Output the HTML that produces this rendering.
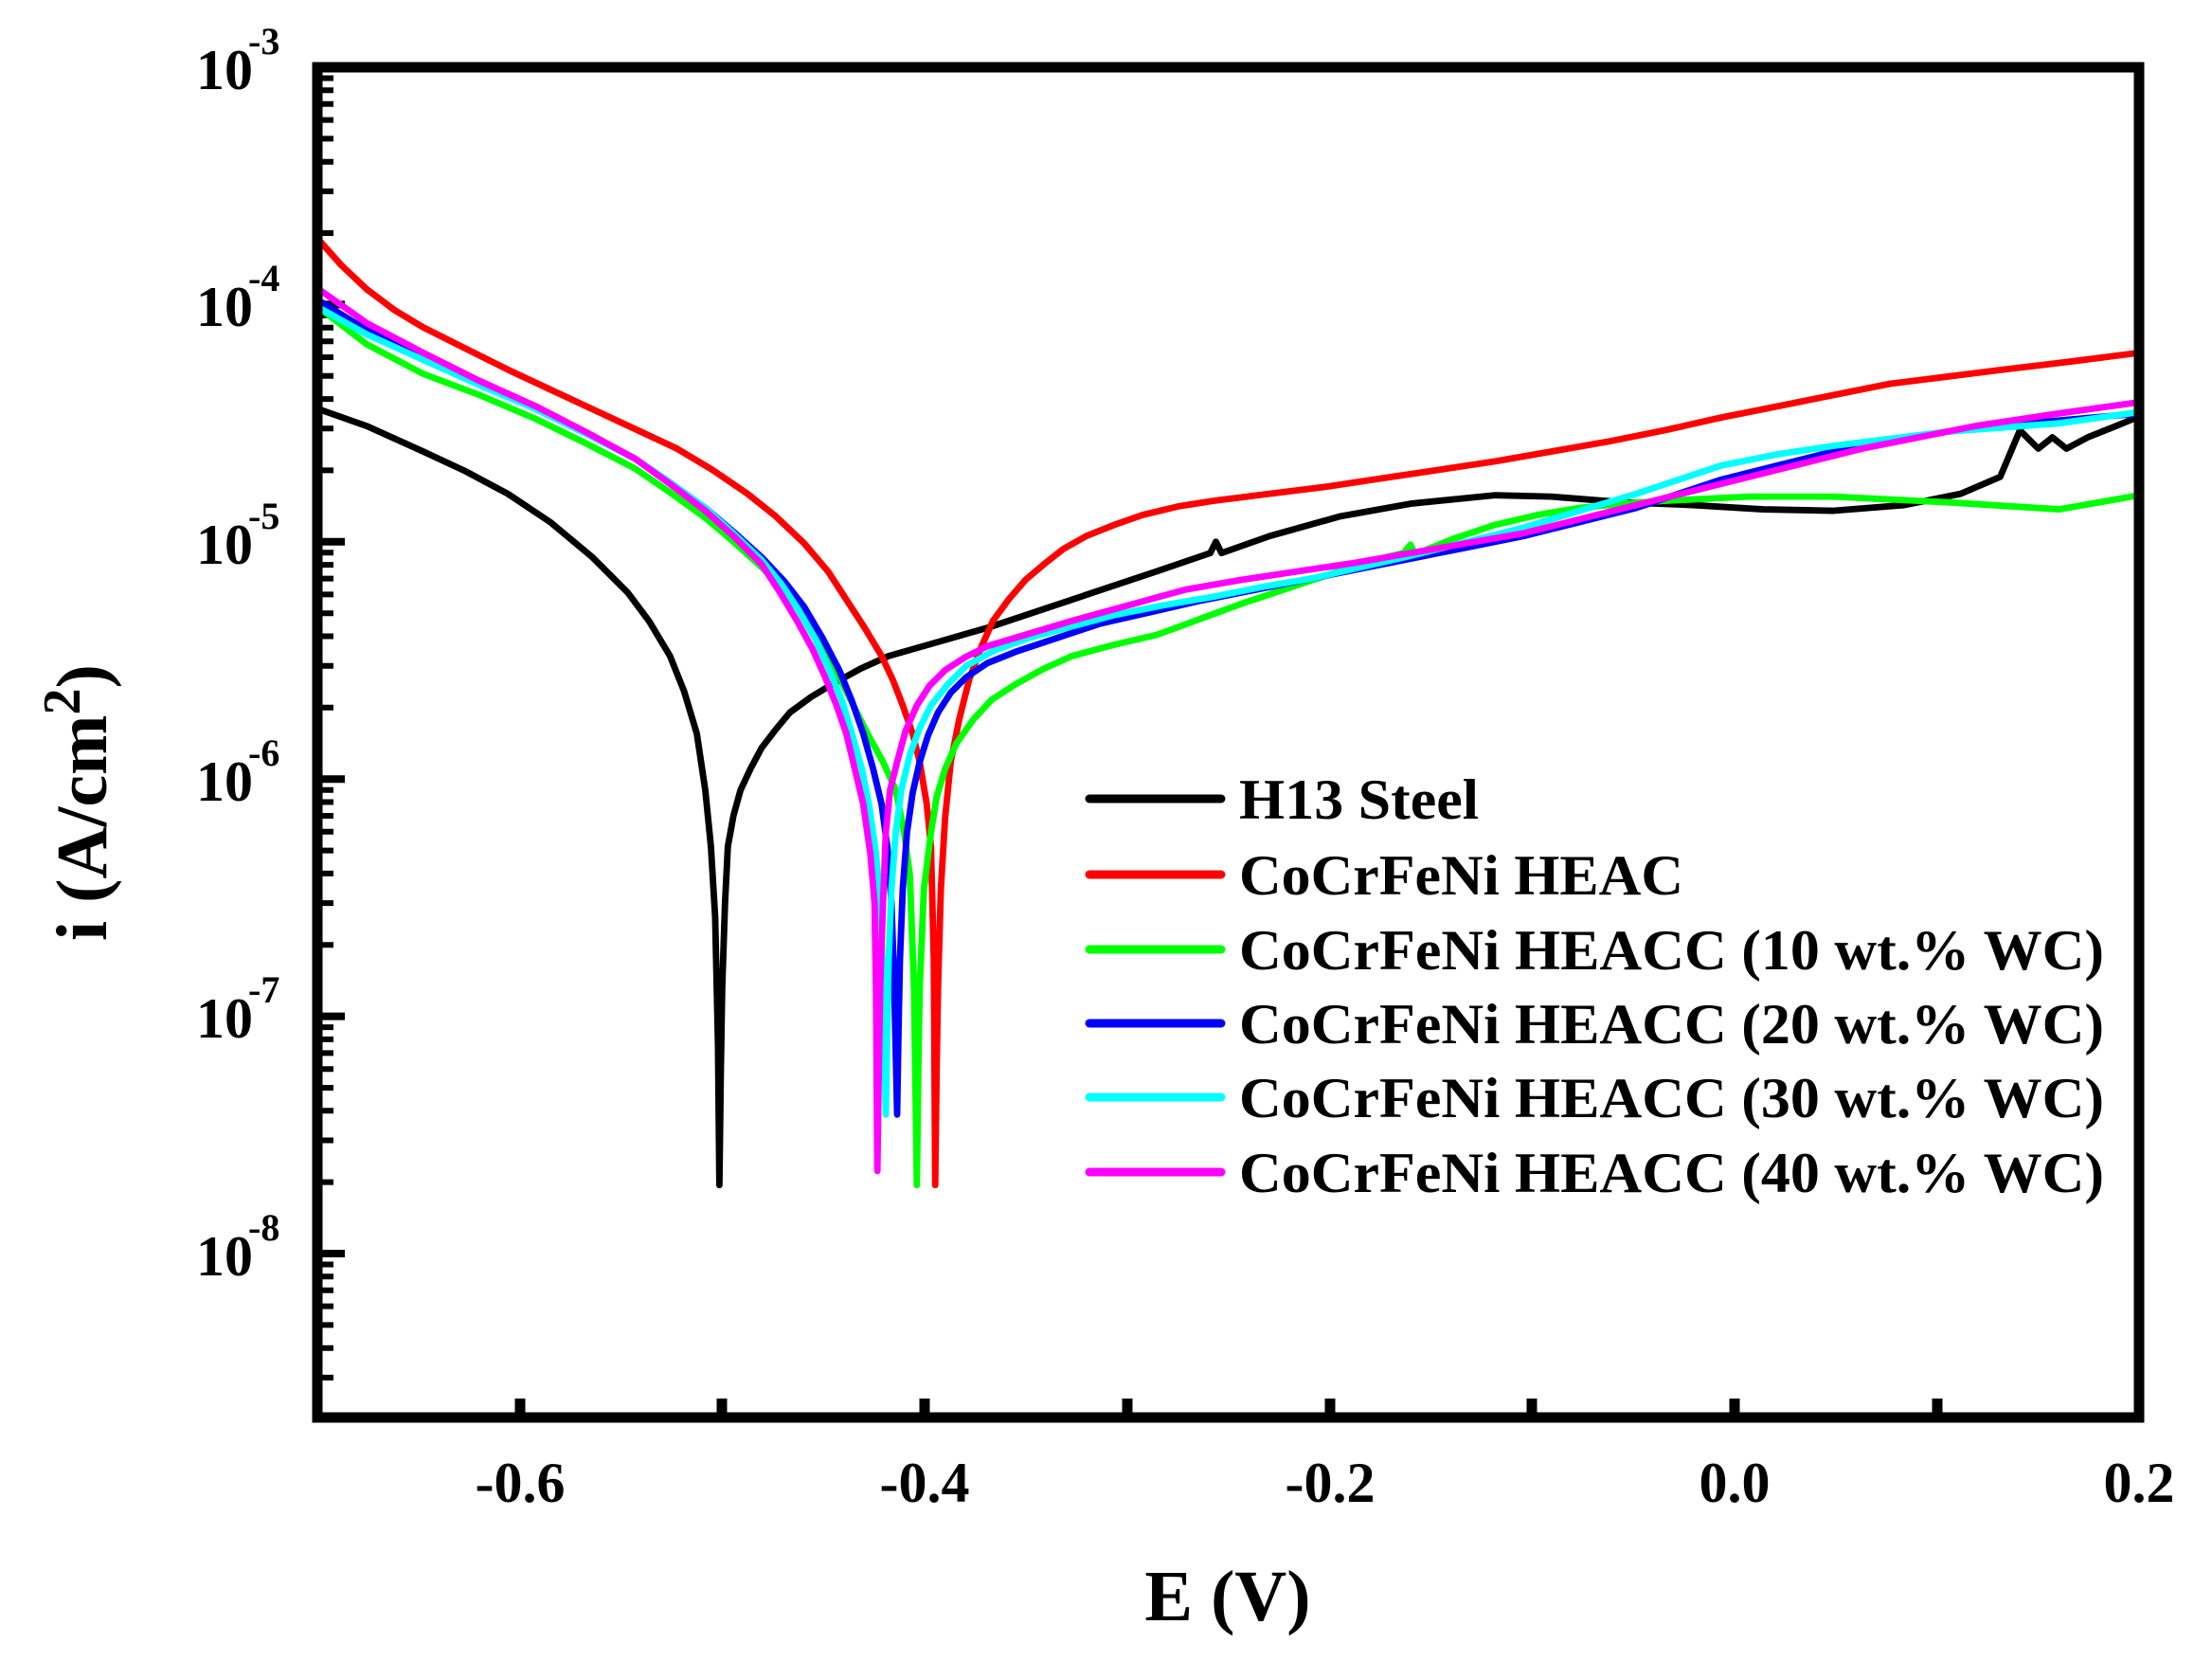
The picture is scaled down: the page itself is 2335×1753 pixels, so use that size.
<!DOCTYPE html>
<html><head><meta charset="utf-8"><style>
html,body{margin:0;padding:0;background:#fff}
svg{display:block}
text{font-family:"Liberation Serif",serif;font-weight:bold;fill:#000}
</style></head><body>
<svg width="2335" height="1753" viewBox="0 0 2335 1753" xmlns="http://www.w3.org/2000/svg">
<rect width="2335" height="1753" fill="#fff"/>
<defs>
<g id="dec" stroke="#000" stroke-width="6">
<line x1="335" y1="0" x2="364" y2="0" stroke-width="8"/>
<line x1="335" y1="-75.4" x2="352" y2="-75.4"/>
<line x1="335" y1="-119.5" x2="352" y2="-119.5"/>
<line x1="335" y1="-150.7" x2="352" y2="-150.7"/>
<line x1="335" y1="-175" x2="352" y2="-175"/>
<line x1="335" y1="-194.8" x2="352" y2="-194.8"/>
<line x1="335" y1="-211.6" x2="352" y2="-211.6"/>
<line x1="335" y1="-226.1" x2="352" y2="-226.1"/>
<line x1="335" y1="-238.9" x2="352" y2="-238.9"/>
</g>
</defs>
<use href="#dec" transform="translate(0,321.4)"/>
<use href="#dec" transform="translate(0,571.8)"/>
<use href="#dec" transform="translate(0,822.2)"/>
<use href="#dec" transform="translate(0,1072.6)"/>
<use href="#dec" transform="translate(0,1323)"/>
<g stroke="#000" stroke-width="6">
<line x1="335" y1="1453.9" x2="352" y2="1453.9"/>
<line x1="335" y1="1422.7" x2="352" y2="1422.7"/>
<line x1="335" y1="1398.4" x2="352" y2="1398.4"/>
<line x1="335" y1="1378.6" x2="352" y2="1378.6"/>
<line x1="335" y1="1361.8" x2="352" y2="1361.8"/>
<line x1="335" y1="1347.3" x2="352" y2="1347.3"/>
<line x1="335" y1="1334.5" x2="352" y2="1334.5"/>
</g>
<g stroke="#000" stroke-width="11">
<line x1="549" y1="1496" x2="549" y2="1476"/>
<line x1="762" y1="1496" x2="762" y2="1476"/>
<line x1="976" y1="1496" x2="976" y2="1476"/>
<line x1="1190" y1="1496" x2="1190" y2="1476"/>
<line x1="1404" y1="1496" x2="1404" y2="1476"/>
<line x1="1617" y1="1496" x2="1617" y2="1476"/>
<line x1="1831" y1="1496" x2="1831" y2="1476"/>
<line x1="2045" y1="1496" x2="2045" y2="1476"/>
</g>
<g transform="scale(1.489)" fill="none" stroke-width="4.6" stroke-linejoin="round" stroke-linecap="round">
<polyline stroke="#000" points="226,290 260,302 300,320 330,334 360,350 390,370 420,395 445,420 460,440 475,465 485,490 494,520 500,560 504,600 507,650 509,740 510,840 511,760 512,700 514,640 516,600 520,578 525,560 532,545 540,530 550,517 560,505 575,494 590,485 610,474 630,465 665,455 700,445 730,435 760,425 790,415 820,405 858,392 862,384 866,392 900,380 950,366 1000,357 1060,351 1100,352 1150,356 1200,358 1250,361 1300,362 1350,358 1390,350 1418,338 1432,305 1445,318 1455,310 1465,318 1480,310 1500,302 1517,295"/>
<polyline stroke="#f00" points="226,170 242,188 260,205 280,220 300,232 330,247 360,262 390,276 420,290 450,304 480,318 505,333 530,350 550,366 570,385 587,405 600,425 613,445 625,465 633,482 640,500 647,520 652,540 657,570 660,600 662,680 663,840 664,760 665,700 667,630 670,580 674,540 680,510 687,482 695,460 704,440 715,425 727,411 740,400 754,389 770,380 790,372 810,365 835,359 860,355 900,350 940,345 980,339 1020,333 1060,327 1100,320 1140,313 1180,305 1220,296 1260,288 1300,280 1340,272 1380,267 1420,262 1470,256 1517,250"/>
<polyline stroke="#0f0" points="226,218 260,244 300,265 340,280 380,297 415,314 450,332 475,349 500,367 520,384 540,402 556,419 570,437 583,458 595,480 605,500 615,520 626,540 635,560 641,590 645,620 648,700 650,840 651,760 652,700 655,630 660,590 664,565 670,545 678,527 690,510 703,496 720,485 740,474 760,465 790,457 820,450 850,439 880,428 910,418 940,408 970,398 995,392 1000,386 1003,393 1030,382 1060,372 1090,365 1120,360 1150,357 1180,355 1240,352 1300,352 1380,356 1460,361 1517,351"/>
<polyline stroke="#00f" points="226,213 260,234 300,253 340,272 380,290 415,307 450,325 475,342 500,360 520,377 540,395 556,412 570,430 583,452 595,475 604,497 612,520 619,545 625,570 629,600 632,640 634,700 636,790 637,730 638,680 640,630 643,590 647,562 652,540 658,521 665,505 674,491 685,480 700,470 720,462 750,452 780,442 815,434 850,426 885,419 920,412 960,404 1000,396 1040,388 1080,380 1120,370 1160,360 1190,350 1220,340 1260,330 1300,320 1340,313 1380,306 1420,302 1460,298 1517,293"/>
<polyline stroke="#0ff" points="226,218 260,237 300,255 340,273 380,290 415,307 450,325 475,342 500,360 520,378 540,397 554,414 566,432 578,453 588,475 597,497 604,520 611,545 616,570 621,605 624,640 626,700 628,790 629,730 630,680 632,630 635,590 639,560 645,535 652,516 660,500 672,485 685,472 705,461 730,452 760,444 790,436 825,429 860,423 895,416 930,410 965,402 1000,394 1040,384 1080,374 1120,362 1160,350 1190,340 1220,330 1260,322 1300,316 1340,311 1380,306 1420,303 1460,300 1517,292"/>
<polyline stroke="#f0f" points="226,205 260,229 300,250 340,270 380,288 415,306 450,325 475,343 500,362 520,380 540,400 553,420 565,440 576,460 585,480 593,500 600,520 606,545 612,570 617,605 620,640 621,700 622,830 623,760 624,700 626,640 628,590 631,560 636,540 642,518 650,500 659,486 670,475 684,466 700,458 730,449 760,440 800,429 840,418 880,411 920,405 960,399 1000,392 1040,385 1080,378 1120,368 1160,358 1200,348 1240,338 1280,328 1320,318 1360,310 1400,302 1460,293 1517,285"/>
</g>
<rect x="335" y="71" width="1923" height="1425" fill="none" stroke="#000" stroke-width="11"/>
<g font-size="60">
<text x="207" y="94">10</text><text x="262" y="57" font-size="40">-3</text>
<text x="207" y="344">10</text><text x="262" y="307" font-size="40">-4</text>
<text x="207" y="595">10</text><text x="262" y="558" font-size="40">-5</text>
<text x="207" y="845">10</text><text x="262" y="808" font-size="40">-6</text>
<text x="207" y="1095">10</text><text x="262" y="1058" font-size="40">-7</text>
<text x="207" y="1346">10</text><text x="262" y="1309" font-size="40">-8</text>
</g>
<g font-size="60" text-anchor="middle">
<text x="549" y="1585">-0.6</text>
<text x="976" y="1585">-0.4</text>
<text x="1404" y="1585">-0.2</text>
<text x="1831" y="1585">0.0</text>
<text x="2258" y="1585">0.2</text>
</g>
<text x="1296" y="1710" font-size="76" text-anchor="middle">E (V)</text>
<text transform="translate(112,993) rotate(-90)" font-size="76">i (A/cm<tspan font-size="56" dy="-28">2</tspan><tspan dy="28">)</tspan></text>
<g stroke-width="9" stroke-linecap="round">
<line x1="1150" y1="843" x2="1289" y2="843" stroke="#000"/>
<line x1="1150" y1="923" x2="1289" y2="923" stroke="#f00"/>
<line x1="1150" y1="1002" x2="1289" y2="1002" stroke="#0f0"/>
<line x1="1150" y1="1080" x2="1289" y2="1080" stroke="#00f"/>
<line x1="1150" y1="1158" x2="1289" y2="1158" stroke="#0ff"/>
<line x1="1150" y1="1237" x2="1289" y2="1237" stroke="#f0f"/>
</g>
<g font-size="60">
<text x="1308" y="864" textLength="253" lengthAdjust="spacingAndGlyphs">H13 Steel</text>
<text x="1308" y="944" textLength="469" lengthAdjust="spacingAndGlyphs">CoCrFeNi HEAC</text>
<text x="1308" y="1023" textLength="913" lengthAdjust="spacingAndGlyphs">CoCrFeNi HEACC (10 wt.% WC)</text>
<text x="1308" y="1101" textLength="913" lengthAdjust="spacingAndGlyphs">CoCrFeNi HEACC (20 wt.% WC)</text>
<text x="1308" y="1179" textLength="913" lengthAdjust="spacingAndGlyphs">CoCrFeNi HEACC (30 wt.% WC)</text>
<text x="1308" y="1258" textLength="913" lengthAdjust="spacingAndGlyphs">CoCrFeNi HEACC (40 wt.% WC)</text>
</g>
</svg>
</body></html>
